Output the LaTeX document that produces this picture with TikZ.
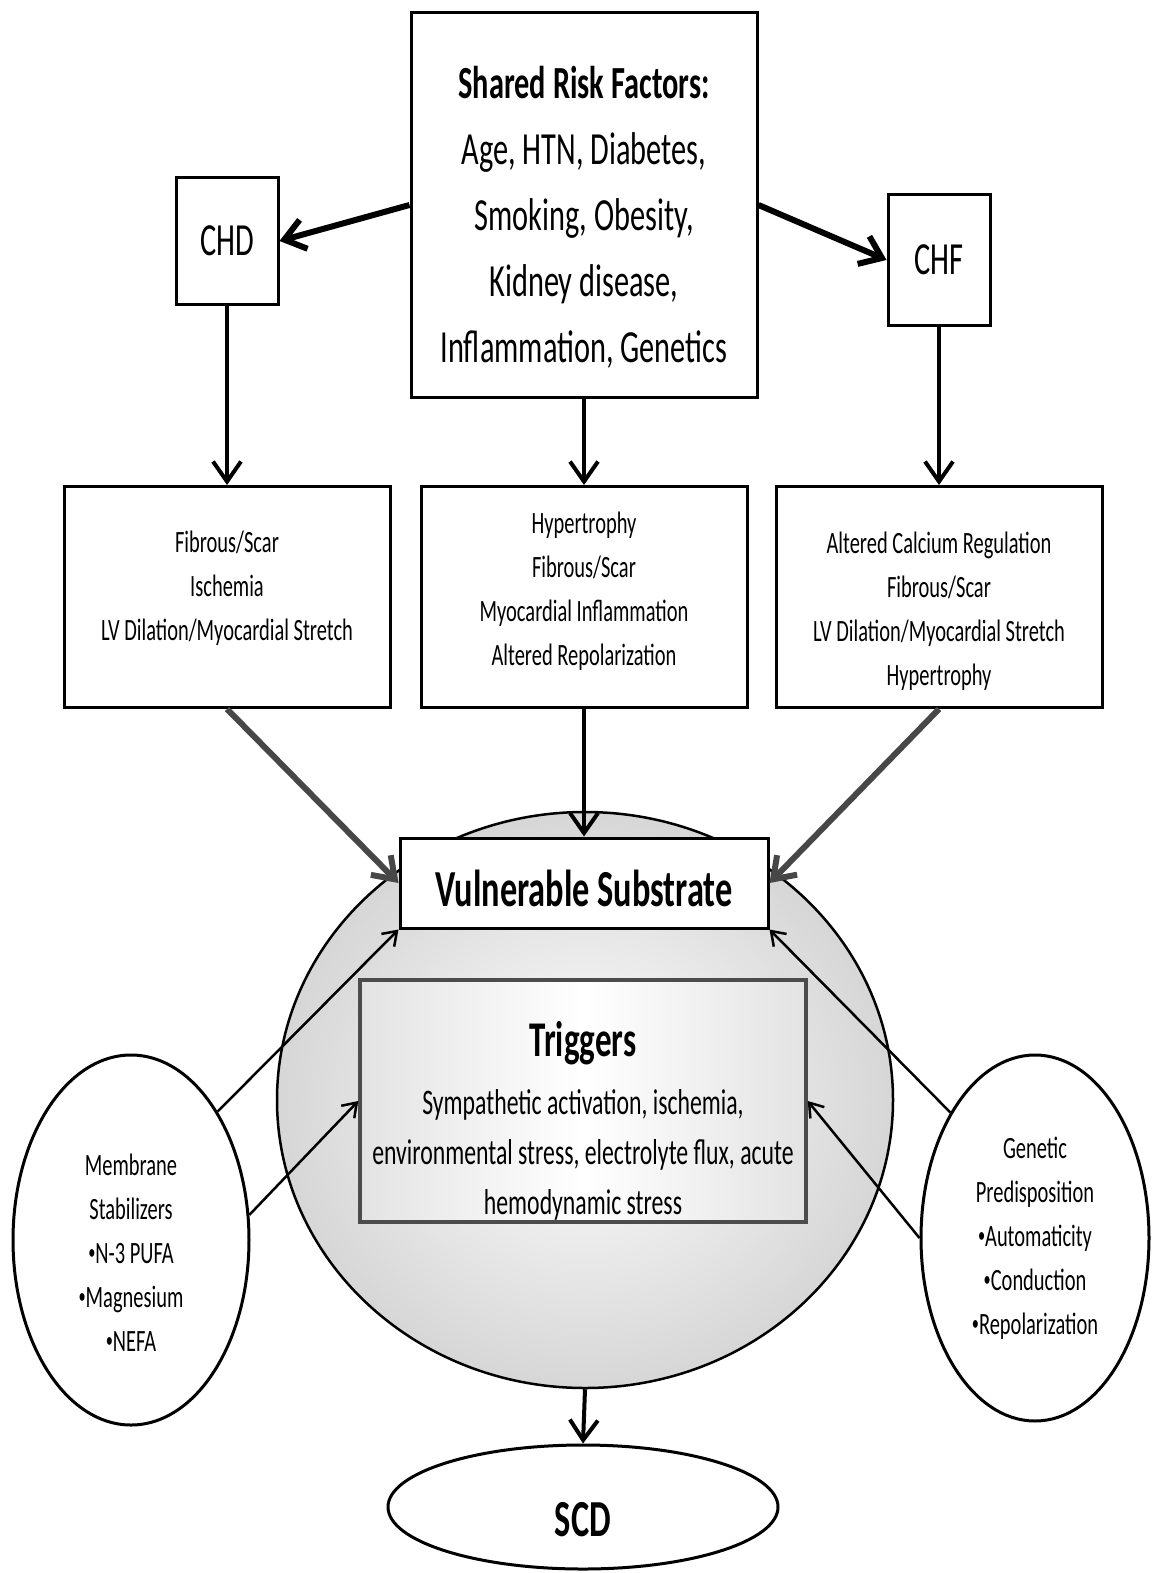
\documentclass[tikz,border=0pt]{standalone}
\usepackage{fontspec}
\setmainfont{Carlito}[FakeStretch=0.66]
\usetikzlibrary{arrows.meta,shapes.geometric}
% small bullet as in the figure
\newcommand\smallbullet{\raisebox{0.12em}{\scalebox{0.7}{\textbullet}}}

\begin{document}
\begin{tikzpicture}[
    x=1pt, y=-1pt,
    every node/.style={align=center, inner sep=0pt},
    box/.style={draw, line width=3pt, fill=white},
    bigtext/.style={font=\fontsize{46}{66}\selectfont},
    smalltext/.style={font=\fontsize{31}{44}\selectfont},
    oval/.style={draw, ellipse, line width=3pt, fill=white, smalltext},
    bigarrow/.style={-{Straight Barb[length=20pt,width=30pt]}, line width=6pt},
    arrow/.style={-{Straight Barb[length=20pt,width=28pt]}, line width=4pt},
    grayarrow/.style={arrow, line width=6pt, black!72},
    thinarrow/.style={-{Straight Barb[length=13pt,width=18pt]}, line width=2.5pt}
]
\useasboundingbox (0,0) rectangle (1151,1573);

% background oval
\node (core) [ellipse, draw, line width=2.5pt, minimum width=616pt, minimum height=576pt,
    inner color=white, outer color=gray!32] at (585,1100) {};

% top row
\node (risk) [box, bigtext, minimum width=346pt, minimum height=385pt] at (584,205)
    {\rule{0pt}{56pt}\textbf{Shared Risk Factors:}\\Age, HTN, Diabetes,\\Smoking, Obesity,\\Kidney disease,\\Inflammation, Genetics};
\node (chd) [box, bigtext, minimum width=102pt, minimum height=127pt] at (227,241) {CHD};
\node (chf) [box, bigtext, minimum width=102pt, minimum height=130pt] at (939,260) {CHF};

% middle row
\node (scar) [box, smalltext, minimum width=326pt, minimum height=221pt] at (227,597)
    {Fibrous/Scar\\Ischemia\\LV Dilation/Myocardial Stretch\rule[-22pt]{0pt}{0pt}};
\node (hyper) [box, smalltext, minimum width=326pt, minimum height=221pt] at (584,597)
    {Hypertrophy\\Fibrous/Scar\\Myocardial Inflammation\\Altered Repolarization\rule[-16pt]{0pt}{0pt}};
\node (calcium) [box, smalltext, minimum width=326pt, minimum height=221pt] at (939,597)
    {\rule{0pt}{50pt}Altered Calcium Regulation\\Fibrous/Scar\\LV Dilation/Myocardial Stretch\\Hypertrophy};

% inside the oval
\node (substrate) [box, minimum width=368pt, minimum height=90pt,
    font=\bfseries\fontsize{52}{60}\selectfont] at (584,883) {\rule{0pt}{48pt}Vulnerable Substrate};
\node (triggers) [draw=black!70, line width=3.5pt, minimum width=446pt, minimum height=242pt,
    left color=gray!22, right color=gray!22, middle color=white,
    font=\fontsize{36}{50}\selectfont] at (583,1101)
    {{\bfseries\fontsize{50}{50}\selectfont\rule{0pt}{75pt}Triggers}\\[8pt]Sympathetic activation, ischemia,\\environmental stress, electrolyte flux, acute\\hemodynamic stress};

% side ovals and outcome
\node (membrane) [oval, minimum width=236pt, minimum height=370pt] at (131,1240)
    {\rule{0pt}{46pt}Membrane\\Stabilizers\\\smallbullet N-3 PUFA\\\smallbullet Magnesium\\\smallbullet NEFA};
\node (genetic) [oval, minimum width=228pt, minimum height=366pt] at (1035,1238)
    {Genetic\\Predisposition\\\smallbullet Automaticity\\\smallbullet Conduction\\\smallbullet Repolarization};
\node (scd) [oval, minimum width=390pt, minimum height=124pt,
    font=\bfseries\fontsize{52}{56}\selectfont] at (583,1507) {\rule{0pt}{60pt}SCD};

\draw [bigarrow] (risk.west) -- (chd.east);
\draw [bigarrow] (risk.east) -- (chf.west);
\draw [arrow] (chd.south) -- (scar.north);
\draw [arrow] (risk.south) -- (hyper.north);
\draw [arrow] (chf.south) -- (calcium.north);
\draw [grayarrow] (scar.south) -- (substrate.west);
\draw [arrow] (hyper.south) -- (substrate.north);
\draw [grayarrow] (calcium.south) -- (substrate.east);
\draw [thinarrow] (membrane.56) -- (substrate.south west);
\draw [thinarrow] (membrane.12) -- (triggers.west);
\draw [thinarrow] (genetic.124) -- (substrate.south east);
\draw [thinarrow] (genetic.west) -- (triggers.east);
\draw [arrow] (core.south) -- (scd.north);

\end{tikzpicture}
\end{document}
